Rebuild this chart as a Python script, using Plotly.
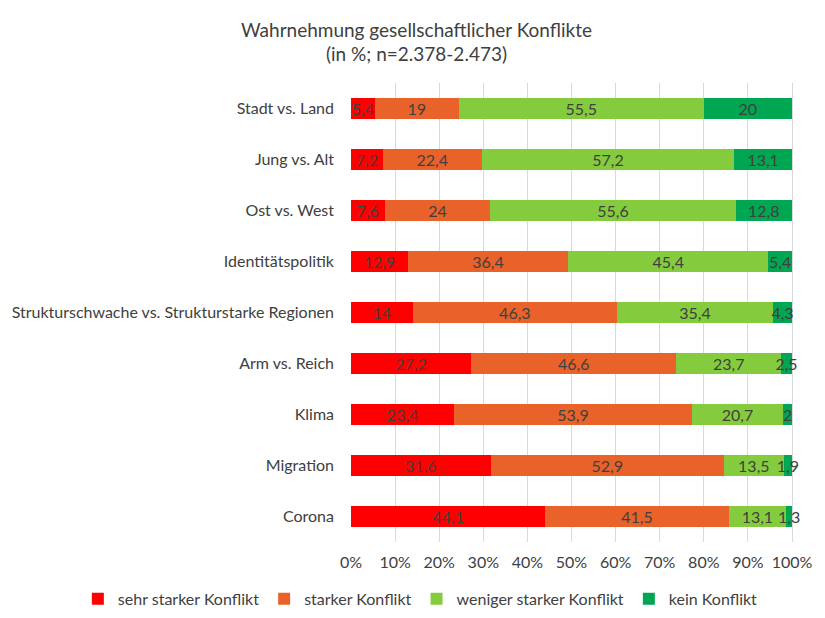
import plotly.graph_objects as go

categories = ["Stadt vs. Land", "Jung vs. Alt", "Ost vs. West", "Identitätspolitik",
              "Strukturschwache vs. Strukturstarke Regionen", "Arm vs. Reich",
              "Klima", "Migration", "Corona"]
sehr_stark = [5.4, 7.2, 7.6, 12.9, 14, 27.2, 23.4, 31.6, 44.1]
stark = [19, 22.4, 24, 36.4, 46.3, 46.6, 53.9, 52.9, 41.5]
weniger = [55.5, 57.2, 55.6, 45.4, 35.4, 23.7, 20.7, 13.5, 13.1]
kein = [20, 13.1, 12.8, 5.4, 4.3, 2.5, 2, 1.9, 1.3]
tick_vals = [0, 10, 20, 30, 40, 50, 60, 70, 80, 90, 100]
tick_labels = ["0%", "10%", "20%", "30%", "40%", "50%", "60%", "70%", "80%", "90%", "100%"]

series = [
    ("sehr starker Konflikt", sehr_stark, "#FF0000"),
    ("starker Konflikt", stark, "#E8622A"),
    ("weniger starker Konflikt", weniger, "#84CC3E"),
    ("kein Konflikt", kein, "#00A651"),
]

def fmt(v):
    return ("%g" % v).replace(".", ",")

fig = go.Figure()
for name, vals, col in series:
    fig.add_bar(
        y=categories, x=vals, name=name, orientation="h",
        marker=dict(color=col, line=dict(width=0)),
        text=[fmt(v) for v in vals], textposition="inside",
        insidetextanchor="middle", textangle=0,
        textfont=dict(color="#404040", size=16),
        hoverinfo="skip",
    )

# page body has an 8px margin, so the figure is a bit smaller than the window;
# x range runs a little past 100 so labels of the thin last segments are not clipped
fig.update_layout(
    barmode="stack", barnorm="percent", bargap=0.57,
    width=817, height=610,
    margin=dict(l=343, r=24, t=75, b=76, autoexpand=False),
    paper_bgcolor="white", plot_bgcolor="white",
    font=dict(family="Lato, Open Sans, sans-serif", color="#404040", size=16),
    uniformtext=dict(minsize=16, mode="show"),
    title=dict(text="Wahrnehmung gesellschaftlicher Konflikte<br>(in %; n=2.378-2.473)",
               x=0.5, xref="container", xanchor="center", y=0.953, yanchor="top",
               font=dict(size=19, color="#404040")),
    legend=dict(orientation="h", xref="paper", x=-0.607, xanchor="left",
                yref="paper", y=-0.124, yanchor="middle",
                font=dict(size=16), itemwidth=30, traceorder="normal"),
    showlegend=True,
)
fig.update_xaxes(range=[0, 102.04], tickvals=tick_vals, ticktext=tick_labels,
                 showgrid=True, gridcolor="#D9D9D9", gridwidth=1, zeroline=False,
                 ticklabelstandoff=9, tickfont=dict(size=16), fixedrange=True)
fig.update_yaxes(autorange="reversed", showgrid=False, ticks="", ticklabelstandoff=16,
                 tickfont=dict(size=16))

fig.write_html("out.html")
